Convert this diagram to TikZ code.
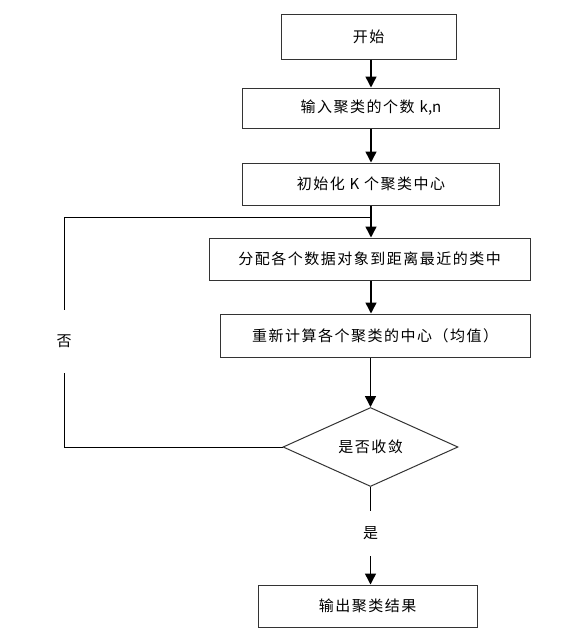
\documentclass[tikz,border=0pt]{standalone}
\usepackage{fontspec}
\newfontfamily\cjk[LetterSpace=10]{Noto Sans CJK SC}
\newfontfamily\lat{Noto Sans CJK SC}
\usepackage{tikz}
\usetikzlibrary{shapes.geometric, arrows.meta, positioning, calc}

\begin{document}
\begin{tikzpicture}[x=1pt,y=-1pt,every node/.style={font=\cjk\fontsize{15}{18}\selectfont}]
\tikzstyle{stepbox}=[draw=black!80,line width=1pt,minimum height=42pt]
\tikzstyle{decision}=[diamond,draw=black!80,line width=1pt,aspect=2.2,inner sep=0pt,minimum width=175pt,minimum height=79pt]
\tikzstyle{flow}=[line width=1.5pt,-{Triangle[length=11pt,width=11pt]}]
\tikzstyle{link}=[line width=1pt]
\tikzstyle{answer}=[inner sep=2pt]

\useasboundingbox (0,0) rectangle (568,632);

\node (start) [stepbox,minimum width=175pt,minimum height=45pt] at (368.5,36.5) {开始};
\node (input) [stepbox,minimum width=257pt,minimum height=40pt] at (371,108) {输入聚类的个数 {\lat k,n}};
\node (init) [stepbox,minimum width=257pt] at (371,184) {初始化 {\lat K} 个聚类中心};
\node (assign) [stepbox,minimum width=321pt] at (369.5,259) {分配各个数据对象到距离最近的类中};
\node (recompute) [stepbox,minimum width=310pt,minimum height=43pt] at (375,335.5) {重新计算各个聚类的中心（均值）};
\node (decide) [decision] at (370.5,447) {是否收敛};
\node (output) [stepbox,minimum width=219pt] at (367.5,606) {输出聚类结果};

\node (no) [answer,minimum height=63pt] at (64,341.5) {否};
\node (yes) [answer,minimum height=45pt] at (370.5,533.5) {是};
\coordinate (merge) at (371,217);

\draw [flow] (start.south -| input.north) -- (input.north);
\draw [flow] (input.south) -- (init.north);
\draw [flow] (init.south) -- (init.south |- assign.north);
\draw [flow] (init.south |- assign.south) -- (init.south |- recompute.north);
\draw [flow] (decide.north |- recompute.south) -- (decide.north);

% loop back when not converged
\draw [link] (decide.west) -| (no.south);
\draw [link] (no.north) |- (merge);

\draw [link] (decide.south) -- (yes.north);
\draw [flow] (yes.south) -- (yes.south |- output.north);
\end{tikzpicture}
\end{document}
